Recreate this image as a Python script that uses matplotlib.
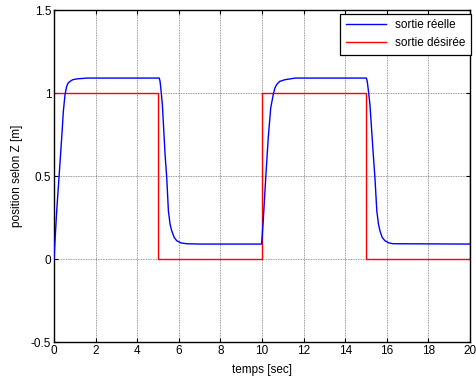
import matplotlib
matplotlib.use("Agg")
import matplotlib.pyplot as plt

plt.rcParams['font.family'] = ['Liberation Sans', 'DejaVu Sans']

# Desired output: square wave, period 10 s
t_des = [0, 5, 5, 10, 10, 15, 15, 20, 20]
z_des = [1, 1, 0, 0, 1, 1, 0, 0, 1]

# Measured output (sampled points of the response)
t_real = [0.0, 0.13, 0.24, 0.37, 0.45, 0.53, 0.61, 0.68, 0.77, 0.90, 1.09, 1.6,
          5.06, 5.10, 5.15, 5.21, 5.34, 5.42, 5.50, 5.58, 5.66, 5.78, 5.90, 6.10, 6.38, 7.0,
          9.98, 10.06, 10.18, 10.30, 10.42, 10.54, 10.62, 10.70, 10.85, 11.10, 11.6,
          15.02, 15.06, 15.12, 15.19, 15.35, 15.43, 15.52, 15.60, 15.67, 15.78, 15.91,
          16.10, 16.30, 20.0]
z_real = [0.0, 0.29, 0.49, 0.73, 0.89, 0.99, 1.04, 1.06, 1.07, 1.08, 1.085, 1.09,
          1.09, 1.07, 1.01, 0.93, 0.63, 0.49, 0.29, 0.21, 0.17, 0.13, 0.11, 0.097, 0.092, 0.09,
          0.09, 0.23, 0.49, 0.73, 0.91, 0.99, 1.03, 1.05, 1.07, 1.08, 1.09,
          1.09, 1.07, 1.01, 0.93, 0.63, 0.49, 0.29, 0.21, 0.17, 0.13, 0.11,
          0.097, 0.092, 0.09]

x_ticks = [0, 2, 4, 6, 8, 10, 12, 14, 16, 18, 20]
y_ticks = [-0.5, 0, 0.5, 1, 1.5]
y_tick_labels = ['-0.5', '0', '0.5', '1', '1.5']

fig = plt.figure(figsize=(4.77, 3.82), dpi=100)
ax = fig.add_axes([0.1132, 0.1047, 0.8721, 0.8691])

ax.plot(t_real, z_real, color='#0000ff', lw=1.0, label='sortie réelle', zorder=3)
ax.plot(t_des, z_des, color='#ff0000', lw=1.0, label='sortie désirée', zorder=2)

ax.set_xlim(0, 20)
ax.set_ylim(-0.5, 1.5)
ax.set_xticks(x_ticks)
ax.set_xticklabels([str(v) for v in x_ticks])
ax.set_yticks(y_ticks)
ax.set_yticklabels(y_tick_labels)

ax.grid(True, color='#555555', linestyle=(0, (1, 1)), linewidth=0.6, alpha=0.8)
ax.set_axisbelow(True)

ax.tick_params(direction='in', length=3, width=0.8, top=True, right=True,
               labelsize=8.5, pad=2, colors='black')
for sp in ax.spines.values():
    sp.set_linewidth(1.0)
    sp.set_color('black')

ax.set_xlabel('temps [sec]', fontsize=8.5, labelpad=5)
ax.set_ylabel('position selon Z [m]', fontsize=8.5, labelpad=6)

leg = ax.legend(loc='upper right', bbox_to_anchor=(1.002, 0.988), fontsize=8.5,
                frameon=True, fancybox=False, edgecolor='black', framealpha=1,
                borderaxespad=0.0, handlelength=3.4, handletextpad=0.8,
                borderpad=0.45, labelspacing=0.5)
leg.get_frame().set_linewidth(0.9)

fig.savefig('out.png', dpi=100)
